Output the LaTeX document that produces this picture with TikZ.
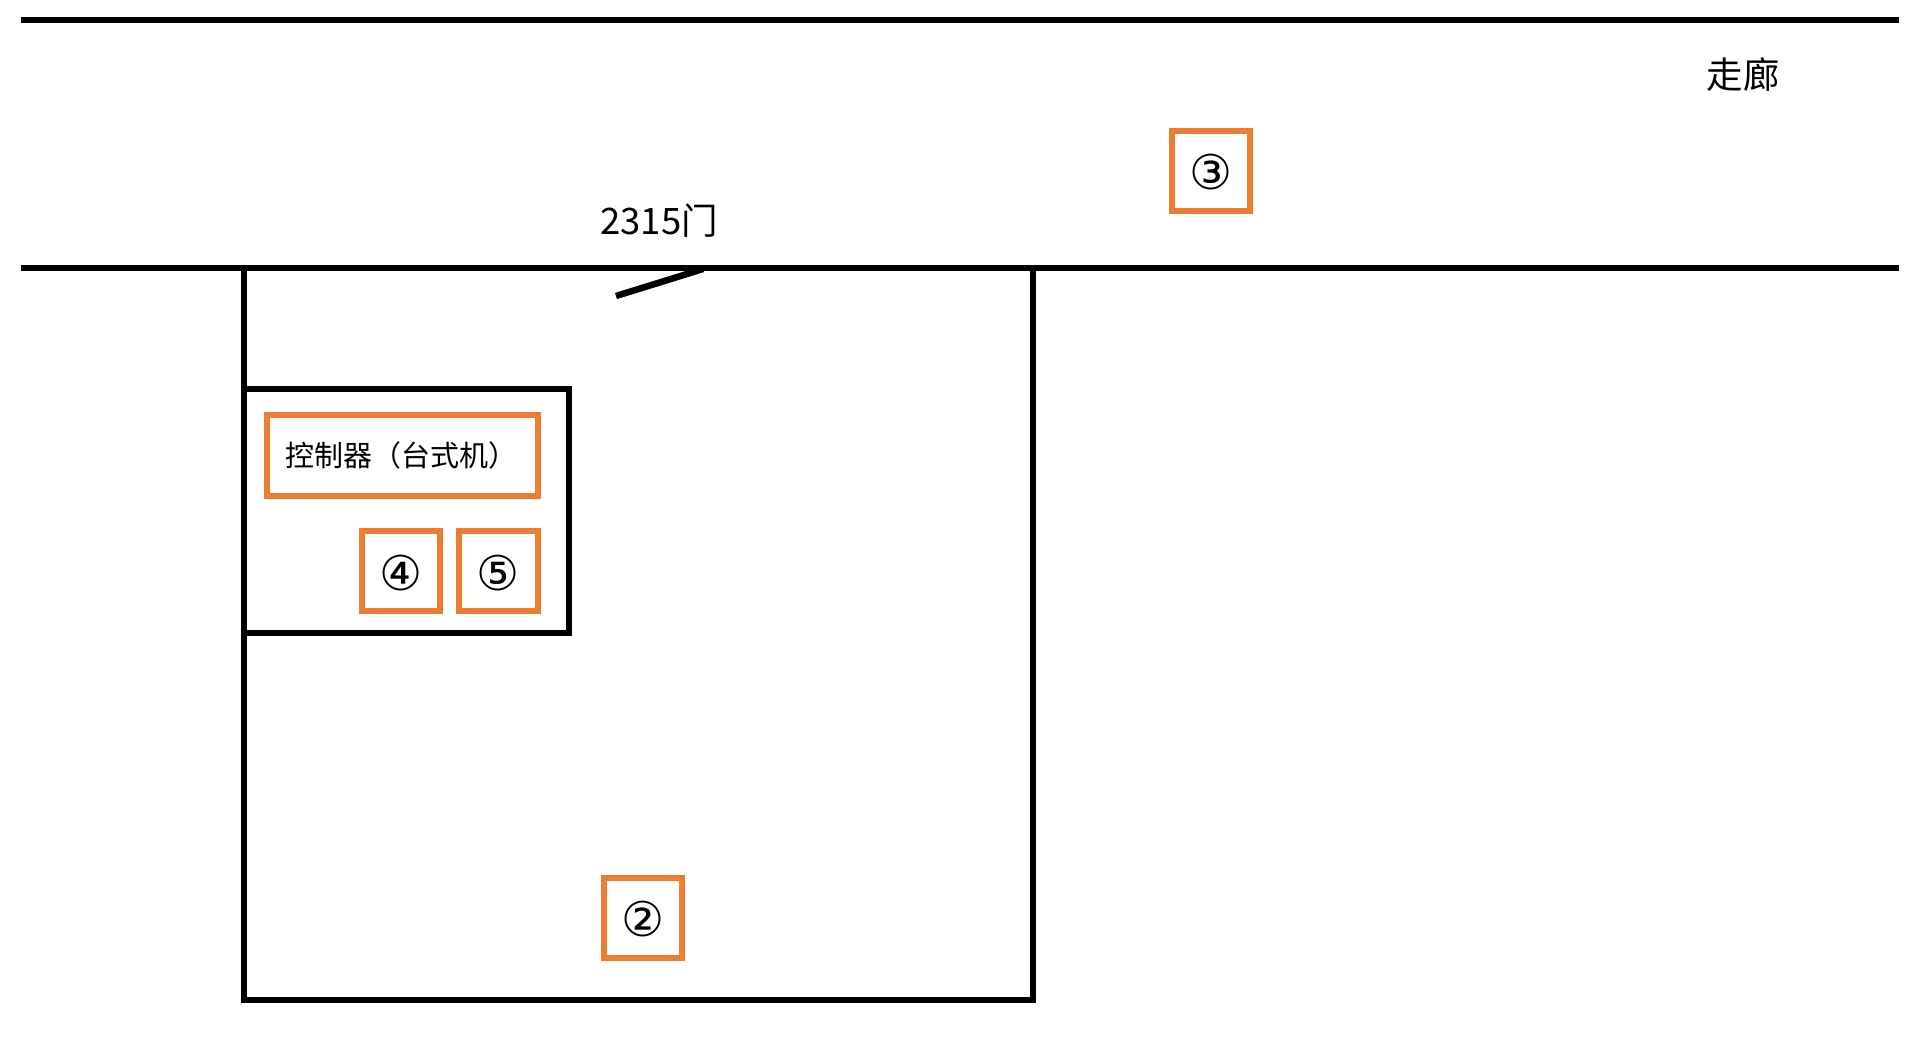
\documentclass[tikz,border=0pt]{standalone}
\usepackage{fontspec}
\setmainfont{Noto Sans CJK SC}
\newfontfamily\circledfont{DejaVu Sans}
\newcommand{\digitmark}[1]{\raisebox{-2pt}[\height][\depth]{#1}}
\usetikzlibrary{positioning}
\definecolor{orange}{HTML}{ED7D31}
\tikzset{
  wall/.style={draw=black, line width=6.5pt},
  marker/.style={draw=orange, line width=6pt, minimum width=78pt, minimum height=80pt, inner sep=0pt, font=\circledfont\fontsize{48}{52}\selectfont},
  controller/.style={marker, align=left, text width=235pt, inner xsep=18pt, minimum height=81pt, font=\fontsize{29}{32}\selectfont},
  label/.style={font=\fontsize{36.5}{40}\selectfont, inner sep=0pt}
}
\begin{document}
\begin{tikzpicture}[x=1pt,y=-1pt]
\useasboundingbox (0,0) rectangle (1925,1041);
\coordinate (topL) at (21,20);
\coordinate (topR) at (1899,20);
\coordinate (midL) at (21,268);
\coordinate (midR) at (1899,268);
\coordinate (roomNW) at (244,268);
\coordinate (roomSE) at (1033,1000);
\coordinate (cabinetNW) at (244,389);
\coordinate (cabinetSE) at (569,633);
\coordinate (doorHinge) at (703,269);
\coordinate (doorEnd) at (616,296);
\draw[wall] (topL) -- (topR);
\draw[wall] (midL) -- (midR);
\draw[wall] (roomNW) rectangle (roomSE);
\draw[wall] (cabinetNW) rectangle (cabinetSE);
\draw[wall] (doorHinge) -- (doorEnd);
\node[label] (corridor) at (1743,75) {走廊};
\node[label] (door) at (659,221) {2315门};
\node[controller] (desktop) at (402.5,455.5) {控制器（台式机）};
\node[marker, minimum width=79pt, below left=29pt and 0pt of desktop.south east] (five) {\digitmark{⑤}};
\node[marker, left=13pt of five] (four) {\digitmark{④}};
\node[marker] (three) at (1211,170.5) {\digitmark{③}};
\node[marker] (two) at (643,917.5) {\digitmark{②}};
\end{tikzpicture}
\end{document}
